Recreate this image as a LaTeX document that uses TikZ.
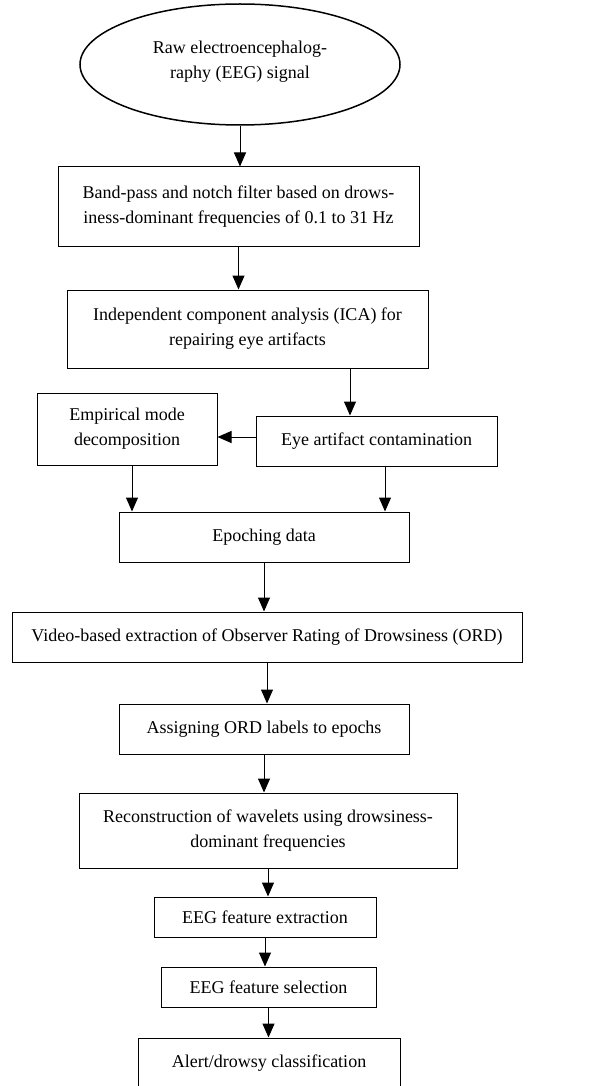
\documentclass[tikz,border=0pt]{standalone}
\usepackage{fontspec}
\setmainfont{Liberation Serif}
\usetikzlibrary{arrows.meta,shapes.geometric}
\begin{document}
\begin{tikzpicture}[x=1pt,y=-1pt,
  box/.style={draw, line width=1pt, rectangle, inner sep=0pt, align=center,
    font=\fontsize{18}{25}\selectfont},
  oval/.style={draw, line width=1.5pt, ellipse, inner sep=0pt, align=center,
    font=\fontsize{18}{25}\selectfont},
  arr/.style={line width=1pt, -{Triangle[length=14pt,width=12pt]}}]
\useasboundingbox (0,0) rectangle (599,1086);
\begin{scope}
\clip (0,0) rectangle (599,1086);
\node[oval, minimum width=320, minimum height=121] (ell) at (240,64.5)
  {Raw electroencephalog-\\raphy (EEG) signal\\[-15pt]\mbox{}};
\node[box, minimum width=361, minimum height=79] (b1) at (238.5,206.5)
  {Band-pass and notch filter based on drows-\\iness-dominant frequencies of 0.1 to 31 Hz};
\node[box, minimum width=361, minimum height=78] (b2) at (247.5,329)
  {Independent component analysis (ICA) for\\repairing eye artifacts};
\node[box, minimum width=180, minimum height=72] (emd) at (127,429)
  {Empirical mode\\decomposition};
\node[box, minimum width=241, minimum height=50] (eye) at (376.5,441)
  {Eye artifact contamination};
\node[box, minimum width=290, minimum height=50] (epo) at (264,537)
  {Epoching data};
\node[box, minimum width=510, minimum height=50] (vid) at (267,637)
  {Video-based extraction of Observer Rating of Drowsiness (ORD)};
\node[box, minimum width=290, minimum height=50] (asg) at (264,729)
  {Assigning ORD labels to epochs};
\node[box, minimum width=378, minimum height=75] (rec) at (268,830.5)
  {Reconstruction of wavelets using drowsiness-\\dominant frequencies};
\node[box, minimum width=222, minimum height=40] (ext) at (265,917)
  {EEG feature extraction};
\node[box, minimum width=215, minimum height=40] (sel) at (268.5,987)
  {EEG feature selection};
\node[box, minimum width=262, minimum height=50] (alt) at (269,1063)
  {Alert/drowsy classification};

\coordinate (c1) at (350,0);
\coordinate (c2) at (0,437);
\coordinate (c3) at (132,0);
\coordinate (c4) at (385,0);

\draw[arr] (ell.south) -- (ell.south |- b1.north);
\draw[arr] (b1.south) -- (b1.south |- b2.north);
\draw[arr] (b2.south -| c1) -- (c1 |- eye.north);
\draw[arr] (eye.west |- c2) -- (emd.east |- c2);
\draw[arr] (emd.south -| c3) -- (c3 |- epo.north);
\draw[arr] (eye.south -| c4) -- (c4 |- epo.north);
\draw[arr] (epo.south) -- (epo.south |- vid.north);
\draw[arr] (vid.south) -- (vid.south |- asg.north);
\draw[arr] (asg.south) -- (asg.south |- rec.north);
\draw[arr] (rec.south) -- (rec.south |- ext.north);
\draw[arr] (ext.south) -- (ext.south |- sel.north);
\draw[arr] (sel.south) -- (sel.south |- alt.north);
\end{scope}
\end{tikzpicture}
\end{document}
